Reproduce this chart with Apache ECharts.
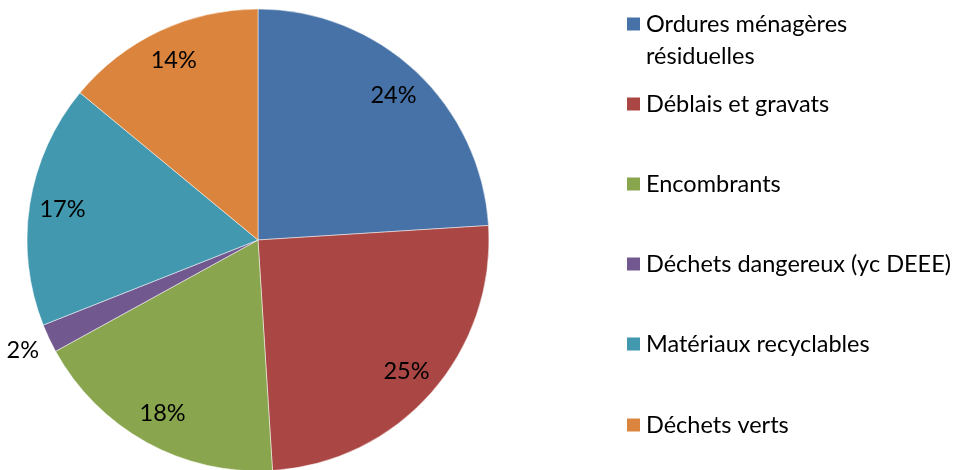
<!DOCTYPE html>
<html>
<head>
	<meta charset="utf-8">
	<title>Déchets</title>
	<style>
		html, body { margin: 0; padding: 0; background: #fff; }
		#chart { width: 968px; height: 470px; }
	</style>
</head>
<body>
	<div id="chart"></div>
<script src="https://cdn.jsdelivr.net/npm/echarts@6/dist/echarts.min.js"></script>
<script>
	var categories = ['Ordures ménagères\nrésiduelles', 'Déblais et gravats', 'Encombrants',
		'Déchets dangereux (yc DEEE)', 'Matériaux recyclables', 'Déchets verts'];
	var values = [24, 25, 18, 2, 17, 14];
	var colors = ['#4772A7', '#AA4643', '#89A54E', '#71588F', '#4198AF', '#DB843D'];
	// haut de chaque entrée de légende
	var legendTops = [7, 88, 168, 248, 328, 409];

	var font = 'Lato, "Noto Sans", sans-serif';
	var chart = echarts.init(document.getElementById('chart'));

	var mainData = categories.map(function (c, i) {
		return { name: c, value: values[i], itemStyle: { color: colors[i] } };
	});
	var labelData = categories.map(function (c, i) {
		return { name: c, value: values[i], label: { show: values[i] > 5 } };
	});
	var smallData = categories.map(function (c, i) {
		return { name: c, value: values[i], label: { show: values[i] <= 5 } };
	});

	var legends = categories.map(function (c, i) {
		var twoLines = c.indexOf('\n') >= 0;
		return {
			orient: 'vertical',
			left: 625,
			top: legendTops[i],
			padding: 0,
			data: [c],
			itemWidth: 15,
			itemHeight: twoLines ? 64 : 15,
			itemGap: 0,
			icon: twoLines ? 'path://M0,8.5h15v15h-15z M0,0h0.01v0.01z M0,64h0.01v0.01z' : 'rect',
			selectedMode: false,
			textStyle: { fontFamily: font, fontSize: 23.5, color: '#000', lineHeight: 32 }
		};
	});

	var pct = function (p) { return p.value + '%'; };

	chart.setOption({
		animation: false,
		legend: legends,
		series: [
			{
				type: 'pie',
				center: [258, 240],
				radius: 231,
				startAngle: 90,
				clockwise: true,
				label: { show: false },
				labelLine: { show: false },
				itemStyle: { borderColor: '#fff', borderWidth: 0.5 },
				data: mainData
			},
			{
				type: 'pie',
				center: [258, 240],
				radius: [160, 230],
				startAngle: 90,
				silent: true,
				itemStyle: { color: 'transparent' },
				label: { position: 'inside', formatter: pct, fontFamily: font, fontSize: 23.5, color: '#000' },
				labelLine: { show: false },
				data: labelData
			},
			{
				type: 'pie',
				center: [258, 240],
				radius: [232, 282],
				startAngle: 90,
				silent: true,
				itemStyle: { color: 'transparent' },
				label: { position: 'inside', formatter: pct, fontFamily: font, fontSize: 23.5, color: '#000' },
				labelLine: { show: false },
				data: smallData
			}
		]
	});
</script>
</body>
</html>
